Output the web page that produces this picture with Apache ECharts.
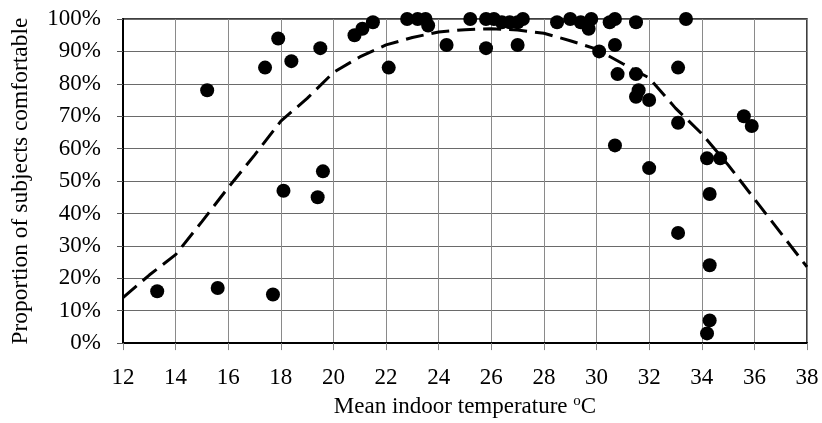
<!DOCTYPE html>
<html>
<head>
<meta charset="utf-8">
<script src="https://cdn.jsdelivr.net/npm/echarts@6/dist/echarts.min.js"></script>
<style>
html,body{margin:0;padding:0;background:#fff;}
#chart{width:822px;height:423px;}
</style>
</head>
<body>
<div id="chart"></div>
<script>
// Observed data: mean indoor temperature (°C) and proportion comfortable (%)
var tempX = [13.3, 15.2, 15.6, 17.4, 17.7, 17.9, 18.1, 18.4, 19.4, 19.5, 19.6,
  20.8, 21.1, 21.5, 22.1, 22.8, 23.2, 23.5, 23.6, 24.3, 25.2, 25.8, 25.8, 26.1,
  26.4, 26.7, 27.0, 27.2, 27.0, 28.5, 29.0, 29.4, 29.7, 29.8, 30.1, 30.5, 30.7,
  30.7, 30.8, 30.7, 31.5, 31.5, 31.6, 31.5, 32.0, 32.0, 33.1, 33.1, 33.1, 33.4,
  34.2, 34.3, 34.3, 34.3, 34.2, 34.7, 35.6, 35.9];
var comfortY = [16, 78, 17, 85, 15, 94, 47, 87, 45, 91, 53,
  95, 97, 99, 85, 100, 100, 100, 98, 92, 100, 100, 91, 100,
  99, 99, 99, 100, 92, 99, 100, 99, 97, 100, 90, 99, 100,
  92, 83, 61, 99, 83, 78, 76, 75, 54, 85, 68, 34, 100,
  57, 46, 24, 7, 3, 57, 70, 67];

// Fitted curve (dashed)
var curveX = [12, 13, 14, 15, 16, 17, 18, 19, 20, 21, 22, 23, 24, 25, 26, 27, 28, 29, 30, 31, 32, 33, 34, 35, 36, 37, 38];
var curveY = [14, 21, 27.3, 37.5, 48, 58, 68.5, 75.5, 83.5, 88.3, 92, 94.3, 96, 96.7, 97, 96.6, 95.6, 93.3, 90.7, 86.2, 81.8, 72.5, 64.6, 55, 44.5, 34, 23.5];

var xTicks = [12, 14, 16, 18, 20, 22, 24, 26, 28, 30, 32, 34, 36, 38];
var yTicks = [0, 10, 20, 30, 40, 50, 60, 70, 80, 90, 100];

var scatterData = tempX.map(function (x, i) { return [x, comfortY[i]]; });
var curveData = curveX.map(function (x, i) { return [x, curveY[i]]; });

var font = 'Liberation Serif';
var chart = echarts.init(document.getElementById('chart'), null, {renderer: 'canvas'});
chart.setOption({
  animation: false,
  backgroundColor: '#fff',
  grid: {left: 123, right: 15, top: 19, bottom: 78, show: true, borderColor: '#000', borderWidth: 1.5, backgroundColor: 'transparent'},
  xAxis: {
    type: 'value', min: xTicks[0], max: xTicks[xTicks.length - 1], interval: 2,
    name: 'Mean indoor temperature {sup|o}C',
    nameLocation: 'middle', nameGap: 50,
    nameTextStyle: {fontFamily: font, fontSize: 23, color: '#000',
      rich: {sup: {fontFamily: font, fontSize: 15, color: '#000', verticalAlign: 'top', padding: [0, 0, 10, 0]}}},
    axisLine: {show: true, lineStyle: {color: '#000', width: 2}},
    axisTick: {show: true, inside: false, length: 7, lineStyle: {color: '#888', width: 1}},
    axisLabel: {fontFamily: font, fontSize: 23, color: '#000', margin: 23},
    splitLine: {show: true, lineStyle: {color: '#8a8a8a', width: 1}}
  },
  yAxis: {
    type: 'value', min: yTicks[0], max: yTicks[yTicks.length - 1], interval: 10,
    name: 'Proportion of subjects comfortable',
    nameLocation: 'middle', nameGap: 90,
    nameTextStyle: {fontFamily: font, fontSize: 23.5, color: '#000'},
    axisLine: {show: true, lineStyle: {color: '#000', width: 2}},
    axisTick: {show: true, inside: false, length: 6, lineStyle: {color: '#555', width: 1}},
    axisLabel: {fontFamily: font, fontSize: 23, color: '#000', margin: 22, formatter: '{value}%'},
    splitLine: {show: true, lineStyle: {color: '#6a6a6a', width: 1}}
  },
  series: [
    {
      type: 'line', data: curveData, smooth: false, showSymbol: false, symbol: 'none',
      lineStyle: {color: '#000', width: 3, type: [18, 8]}, z: 2
    },
    {
      type: 'scatter', data: scatterData, symbol: 'circle', symbolSize: 14,
      itemStyle: {color: '#000', opacity: 1}, z: 3
    }
  ]
});
</script>
</body>
</html>
